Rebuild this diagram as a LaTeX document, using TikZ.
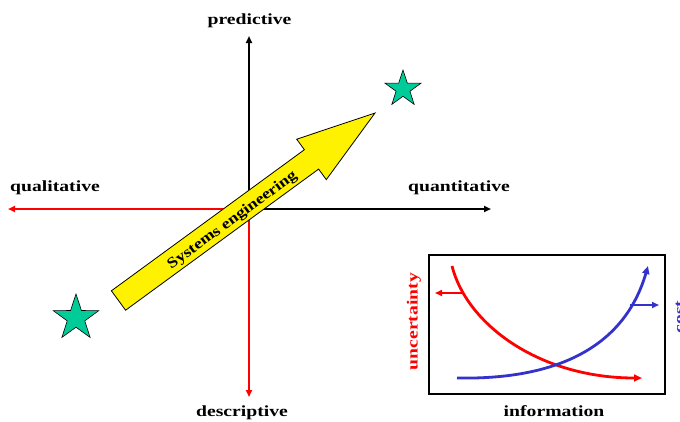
\documentclass[tikz,border=0pt]{standalone}
\usepackage{fontspec}
\setmainfont{Liberation Serif}
\usepackage{graphicx}
\usetikzlibrary{arrows.meta,shapes.geometric}
\definecolor{stargreen}{RGB}{0,204,153}
\definecolor{cblue}{RGB}{51,51,204}
\definecolor{cred}{RGB}{255,0,0}
\newcommand{\widetxt}[1]{\scalebox{1.27}[1]{#1}}
\tikzset{
  lbl/.style={font=\bfseries\fontsize{15.5}{18}\selectfont, inner sep=0pt, anchor=base},
  axisline/.style={line width=2pt, -{Triangle[length=7pt,width=6pt]}},
  starnode/.style={star, star points=5, star point ratio=2.6, fill=stargreen, draw=black, line width=0.6pt, inner sep=0pt},
  curve/.style={line width=2.8pt, -{Triangle[length=8pt,width=7pt]}},
  smallarrow/.style={line width=1.6pt, -{Triangle[length=7pt,width=6pt]}}
}
\begin{document}
\begin{tikzpicture}[x=1pt,y=-1pt]
\clip (0,0) rectangle (680,421);
% axes
\coordinate (O) at (249,209);
\coordinate (top) at (249,36);
\coordinate (bot) at (249,397);
\coordinate (lft) at (8,209);
\coordinate (rgt) at (491,209);
\draw[axisline, black] (O) -- (top);
\draw[axisline, black] (O) -- (rgt);
\draw[axisline, cred] (O) -- (lft);
\draw[axisline, cred] (O) -- (bot);
% axis labels
\node[lbl] (pred) at (249.5,24) {\widetxt{predictive}};
\node[lbl] (qual) at (55,191) {\widetxt{qualitative}};
\node[lbl] (quant) at (459,191) {\widetxt{quantitative}};
\node[lbl] (desc) at (242,416) {\widetxt{descriptive}};
% big yellow arrow
\draw[fill=yellow, draw=black, line width=0.8pt, line join=miter]
  (125.6,310.2) -- (318.6,169.1) -- (326.3,179.6) -- (375,113)
  -- (296.7,139.2) -- (304.4,149.7) -- (111.4,290.8) -- cycle;
\node[font=\bfseries\fontsize{15}{18}\selectfont, inner sep=0pt, rotate=36.2] (se) at (232.5,220.5) {\scalebox{1.2}[1]{Systems engineering}};
% stars
\node[starnode, minimum size=38pt] (s1) at (403,89) {};
\node[starnode, minimum size=48pt] (s2) at (76,318) {};
% inset
\node[draw=black, line width=1.8pt, minimum width=236pt, minimum height=139pt, inner sep=0pt] (box) at (547,324.5) {};
\coordinate (r0) at (452,266);
\coordinate (r1) at (642,378);
\coordinate (b0) at (457,378);
\coordinate (b1) at (648,266);
\draw[curve, cred] (r0) .. controls (467,325) and (540,378) .. (r1);
\draw[curve, cblue] (b0) .. controls (560,380) and (625,345) .. (b1);
\coordinate (ra0) at (463,293);
\coordinate (ra1) at (435,293);
\coordinate (ba0) at (630,305);
\coordinate (ba1) at (659,305);
\draw[smallarrow, cred] (ra0) -- (ra1);
\draw[smallarrow, cblue] (ba0) -- (ba1);
\node[lbl, anchor=center, rotate=90, text=cred] (unc) at (414,321.5) {\widetxt{uncertainty}};
\node[lbl, anchor=north, rotate=90, text=cblue] (cost) at (675.5,317) {\widetxt{cost}};
\node[lbl] (info) at (554,416) {\widetxt{information}};
\end{tikzpicture}
\end{document}
